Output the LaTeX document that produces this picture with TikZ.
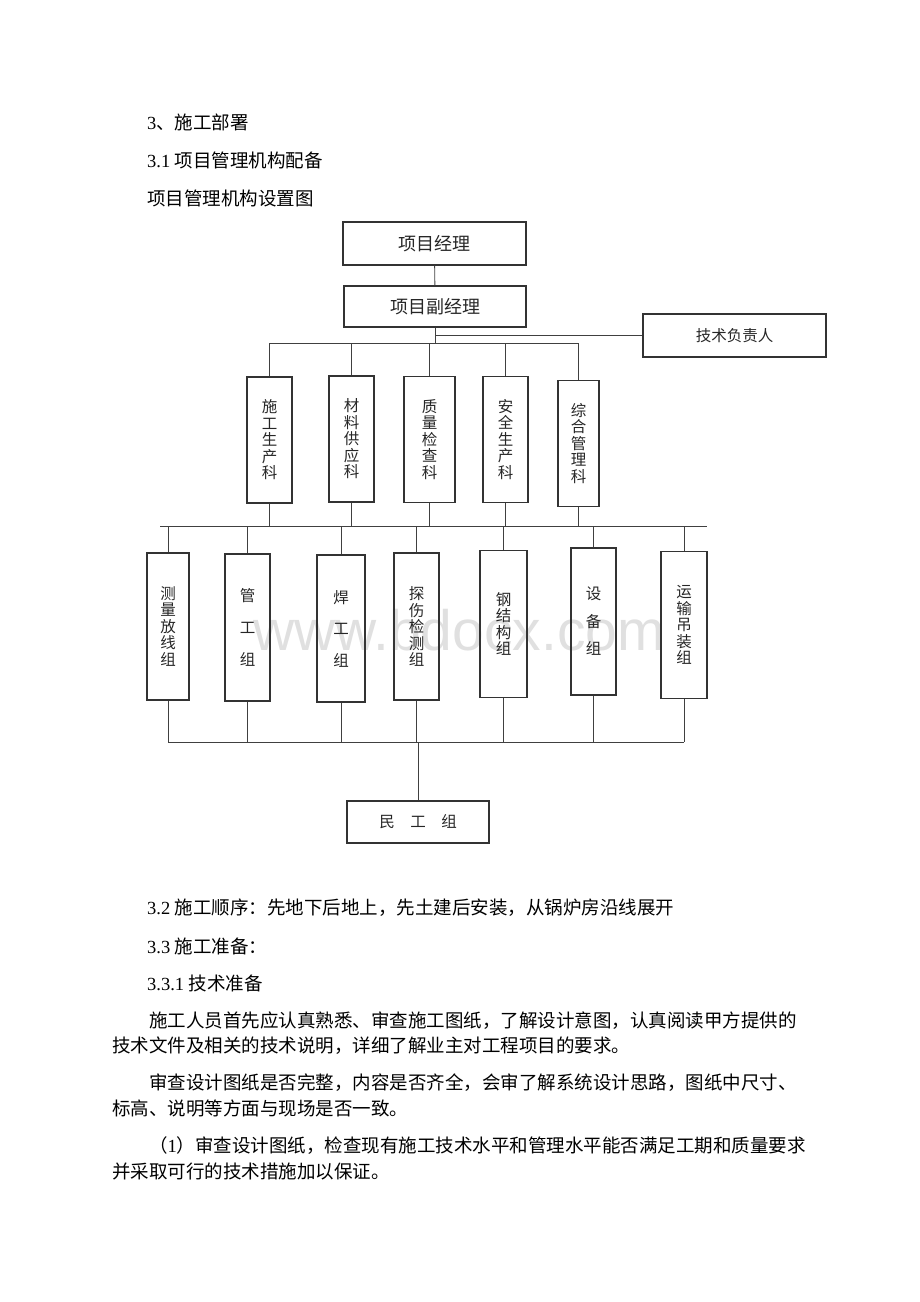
\documentclass[tikz,border=0pt]{standalone}
\usepackage{fontspec}
\setmainfont{Liberation Serif}
\newfontfamily\cjk{Noto Sans CJK SC}
\newfontfamily\wmfont{Liberation Sans}

\begin{document}
\begin{tikzpicture}[x=1pt,y=-1pt,
	box/.style={draw=black!80,line width=1.2pt,inner sep=0pt,align=center,text=black!85,font=\cjk\fontsize{18}{20}\selectfont},
	kebox/.style={box,font=\cjk\fontsize{15.5}{16.5}\selectfont},
	ke/.style={kebox,minimum width=45,minimum height=126},
	zu/.style={kebox,minimum width=45,minimum height=147},
	link/.style={draw=black!75,line width=0.9pt},
	txt/.style={anchor=west,inner sep=0pt,font=\fontsize{18.5}{20}\selectfont}]
	%defs
	\useasboundingbox (0,0) rectangle (920,1302);
	\coordinate (b1) at (269.5,343);
	\coordinate (b2l) at (160,526);
	\coordinate (b2r) at (707,526);
	\coordinate (b3) at (0,742);
	%watermark
	\node[anchor=base,inner sep=0pt,text=black!12,font=\wmfont\fontsize{57}{60}\selectfont] (wm) at (459,650) {www.bdocx.com};
	%boxes
	\node[box,minimum width=183,minimum height=43] (jl) at (434.5,243.5) {项目经理};
	\node[box,minimum width=182,minimum height=41] (fjl) at (435,306.5) {项目副经理};
	\node[kebox,minimum width=183,minimum height=43] (jsfz) at (734.5,335.5) {技术负责人};
	\node[ke] (sg) at (269.5,440) {施\\工\\生\\产\\科};
	\node[ke] (cl) at (351.5,439) {材\\料\\供\\应\\科};
	\node[ke,minimum width=51] (zl) at (429.5,439.5) {质\\量\\检\\查\\科};
	\node[ke] (aq) at (505.5,439.5) {安\\全\\生\\产\\科};
	\node[ke,minimum width=41] (zh) at (578.5,443.5) {综\\合\\管\\理\\科};
	\node[zu,minimum width=42] (clfx) at (168,626.5) {测\\量\\放\\线\\组};
	\node[zu,font=\cjk\fontsize{15.5}{32}\selectfont] (gg) at (247.5,627.5) {管\\工\\组};
	\node[zu,minimum width=48,font=\cjk\fontsize{15.5}{31.5}\selectfont] (hg) at (341,628.5) {焊\\工\\组};
	\node[zu] (ts) at (416.5,626.5) {探\\伤\\检\\测\\组};
	\node[zu,minimum width=47] (gjg) at (503.5,624) {钢\\结\\构\\组};
	\node[zu,font=\cjk\fontsize{15.5}{27.5}\selectfont] (sb) at (593.5,621.5) {设\\备\\组};
	\node[zu,minimum width=46] (ys) at (684,625) {运\\输\\吊\\装\\组};
	\node[kebox,minimum width=142,minimum height=42] (mg) at (418,822) {民\quad 工\quad 组};
	%lines
	\draw[link] (jl) -- (fjl);
	\draw[link] (fjl.south) -- (fjl.south |- b1);
	\draw[link] (jsfz.west) -- (jsfz.west -| fjl.south);
	\draw[link] (b1) -- (zh.north |- b1);
	\foreach \k in {sg,cl,zl,aq,zh} {
		\draw[link] (\k.north) -- (\k.north |- b1);
		\draw[link] (\k.south) -- (\k.south |- b2l);
	}
	\draw[link] (b2l) -- (b2r);
	\foreach \g in {clfx,gg,hg,ts,gjg,sb,ys} {
		\draw[link] (\g.north) -- (\g.north |- b2l);
		\draw[link] (\g.south) -- (\g.south |- b3);
	}
	\draw[link] (clfx.south |- b3) -- (ys.south |- b3);
	\draw[link] (mg.north |- b3) -- (mg.north);
	%Labels
	\node[txt] (h1) at (147,122) {3{\cjk 、施工部署}};
	\node[txt] (h2) at (147,160) {3.1 {\cjk 项目管理机构配备}};
	\node[txt] (h3) at (147,198) {\cjk 项目管理机构设置图};
	\node[txt] (s32) at (147,908) {3.2 {\cjk 施工顺序：先地下后地上，先土建后安装，从锅炉房沿线展开}};
	\node[txt] (s33) at (147,946) {3.3 {\cjk 施工准备：}};
	\node[txt] (s331) at (147,983) {3.3.1 {\cjk 技术准备}};
	\node[txt] (p1a) at (149,1021) {\cjk 施工人员首先应认真熟悉、审查施工图纸，了解设计意图，认真阅读甲方提供的};
	\node[txt] (p1b) at (112,1046) {\cjk 技术文件及相关的技术说明，详细了解业主对工程项目的要求。};
	\node[txt] (p2a) at (149,1083) {\cjk 审查设计图纸是否完整，内容是否齐全，会审了解系统设计思路，图纸中尺寸、};
	\node[txt] (p2b) at (112,1108) {\cjk 标高、说明等方面与现场是否一致。};
	\node[txt] (p3a) at (149,1146) {{\cjk （}1{\cjk ）审查设计图纸，检查现有施工技术水平和管理水平能否满足工期和质量要求}};
	\node[txt] (p3b) at (112,1171) {\cjk 并采取可行的技术措施加以保证。};
\end{tikzpicture}
\end{document}
